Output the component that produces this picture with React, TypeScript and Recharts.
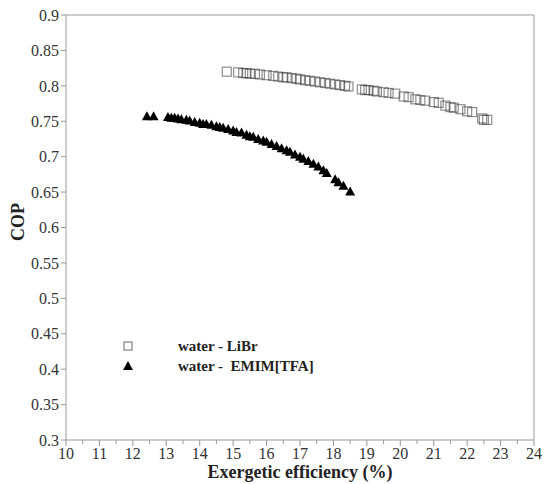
import React from 'react';
import { ScatterChart, Scatter, XAxis, YAxis, ReferenceLine, Label } from 'recharts';

// water - LiBr (open squares)
const liBrEff = [
    14.81, 15.15, 15.3, 15.4, 15.5, 15.65, 15.8, 16.0, 16.2, 16.35,
    16.5, 16.6, 16.75, 16.9, 17.0, 17.15, 17.3, 17.45, 17.6, 17.75,
    17.9, 18.05, 18.2, 18.35, 18.45, 18.85, 18.95, 19.05, 19.2, 19.3,
    19.5, 19.65, 19.85, 20.1, 20.25, 20.45, 20.6, 20.75, 21.0, 21.15,
    21.35, 21.5, 21.6, 21.8, 22.0, 22.15, 22.45, 22.5, 22.6
];
const liBrCop = [
    0.820, 0.819, 0.818, 0.818, 0.817, 0.817, 0.816, 0.815, 0.814, 0.813,
    0.812, 0.812, 0.811, 0.810, 0.809, 0.808, 0.807, 0.806, 0.805, 0.804,
    0.803, 0.802, 0.801, 0.800, 0.799, 0.795, 0.794, 0.794, 0.793, 0.792,
    0.791, 0.790, 0.789, 0.785, 0.784, 0.781, 0.780, 0.779, 0.777, 0.776,
    0.772, 0.770, 0.769, 0.767, 0.764, 0.763, 0.754, 0.752, 0.752
];

// water - EMIM[TFA] (filled triangles)
const emimEff = [
    12.42, 12.62, 13.05, 13.15, 13.25, 13.35, 13.45, 13.6, 13.7, 13.85,
    14.0, 14.1, 14.2, 14.35, 14.5, 14.6, 14.7, 14.85, 15.0, 15.1,
    15.25, 15.4, 15.5, 15.6, 15.75, 15.9, 16.0, 16.15, 16.3, 16.45,
    16.6, 16.7, 16.85, 17.0, 17.1, 17.25, 17.4, 17.55, 17.7, 17.8,
    18.05, 18.15, 18.3, 18.5
];
const emimCop = [
    0.757, 0.757, 0.756, 0.755, 0.755, 0.754, 0.753, 0.752, 0.751, 0.749,
    0.748, 0.746, 0.746, 0.745, 0.743, 0.742, 0.741, 0.739, 0.737, 0.735,
    0.734, 0.731, 0.729, 0.728, 0.725, 0.723, 0.721, 0.718, 0.715, 0.712,
    0.709, 0.707, 0.703, 0.700, 0.697, 0.694, 0.690, 0.686, 0.681, 0.677,
    0.668, 0.664, 0.659, 0.651
];

const xTicks = [
    10, 10.5, 11, 11.5, 12, 12.5, 13, 13.5, 14, 14.5, 15, 15.5, 16, 16.5,
    17, 17.5, 18, 18.5, 19, 19.5, 20, 20.5, 21, 21.5, 22, 22.5, 23, 23.5, 24
];
const yTicks = ['0.3', '0.35', '0.4', '0.45', '0.5', '0.55', '0.6', '0.65', '0.7', '0.75', '0.8', '0.85', '0.9'];

const liBrData = liBrEff.map((x, i) => ({ x, y: liBrCop[i] }));
const emimData = emimEff.map((x, i) => ({ x, y: emimCop[i] }));

const FONT = '"Liberation Serif", "Times New Roman", serif';
const AXIS = '#999';
const TEXT = '#333';

const XTick = (props: any) => {
    const { x, y, payload } = props;
    const major = Number.isInteger(payload.value);
    return (
        <g>
            <line x1={x} x2={x} y1={y} y2={y + (major ? 6 : 4)} stroke={AXIS} />
            {major && (
                <text x={x} y={y + 19} textAnchor="middle" fill={TEXT} fontSize={16} fontFamily={FONT}>
                    {payload.value}
                </text>
            )}
        </g>
    );
};

const Square = (props: any) => (
    <rect x={props.cx - 4.5} y={props.cy - 4.5} width={9} height={9}
        fill="none" stroke="#333" strokeOpacity={0.55} strokeWidth={1.2} />
);

const Triangle = (props: any) => (
    <path d={`M${props.cx},${props.cy - 5} L${props.cx + 5},${props.cy + 4} L${props.cx - 5},${props.cy + 4} Z`} fill="#000" />
);

const App = () => {
    return (
        <div style={{ position: 'absolute', left: 0, top: 0, width: 544, height: 484, background: '#fff' }}>
            <ScatterChart width={544} height={484} margin={{ top: 15, right: 10, bottom: 0, left: 0 }}>
                <XAxis type="number" dataKey="x" domain={[10, 24]} ticks={xTicks} interval={0}
                    height={44} stroke={AXIS} tickLine={false} tickSize={0} tickMargin={0} tick={<XTick />}>
                    <Label content={() => (
                        <text x={300} y={478} textAnchor="middle" fontSize={18} fontWeight="bold" fontFamily={FONT} fill="#222">
                            Exergetic efficiency (%)
                        </text>
                    )} />
                </XAxis>
                <YAxis type="number" dataKey="y" domain={[0.3, 0.9]} ticks={yTicks.map(Number)} interval={0}
                    width={66} stroke={AXIS} tickSize={5} tickMargin={2}
                    tickFormatter={(v: number) => yTicks[Math.round((v - 0.3) / 0.05)]}
                    tick={{ fill: TEXT, fontSize: 16, fontFamily: FONT }}>
                    <Label content={() => (
                        <text x={0} y={0} transform="translate(24,222) rotate(-90)" textAnchor="middle"
                            fontSize={18} fontWeight="bold" fontFamily={FONT} fill="#222">
                            COP
                        </text>
                    )} />
                </YAxis>
                <ReferenceLine y={0.9} stroke={AXIS} />
                <ReferenceLine x={24} stroke={AXIS} />
                <Scatter data={liBrData} shape={<Square />} isAnimationActive={false} />
                <Scatter data={emimData} shape={<Triangle />} isAnimationActive={false} />
            </ScatterChart>
            <div style={{ position: 'absolute', left: 122, top: 336, fontFamily: FONT, fontWeight: 'bold', fontSize: 15, color: '#222', lineHeight: '20px' }}>
                <div style={{ display: 'flex', alignItems: 'center' }}>
                    <svg width={12} height={12} style={{ marginRight: 44 }}>
                        <rect x={2} y={2} width={8} height={8} fill="none" stroke="#666" strokeWidth={1} />
                    </svg>
                    <span>water - LiBr</span>
                </div>
                <div style={{ display: 'flex', alignItems: 'center' }}>
                    <svg width={12} height={12} style={{ marginRight: 44 }}>
                        <path d="M6,1 L11,10 L1,10 Z" fill="#000" />
                    </svg>
                    <span style={{ whiteSpace: 'pre' }}>water -  EMIM[TFA]</span>
                </div>
            </div>
        </div>
    );
};

export default App;
